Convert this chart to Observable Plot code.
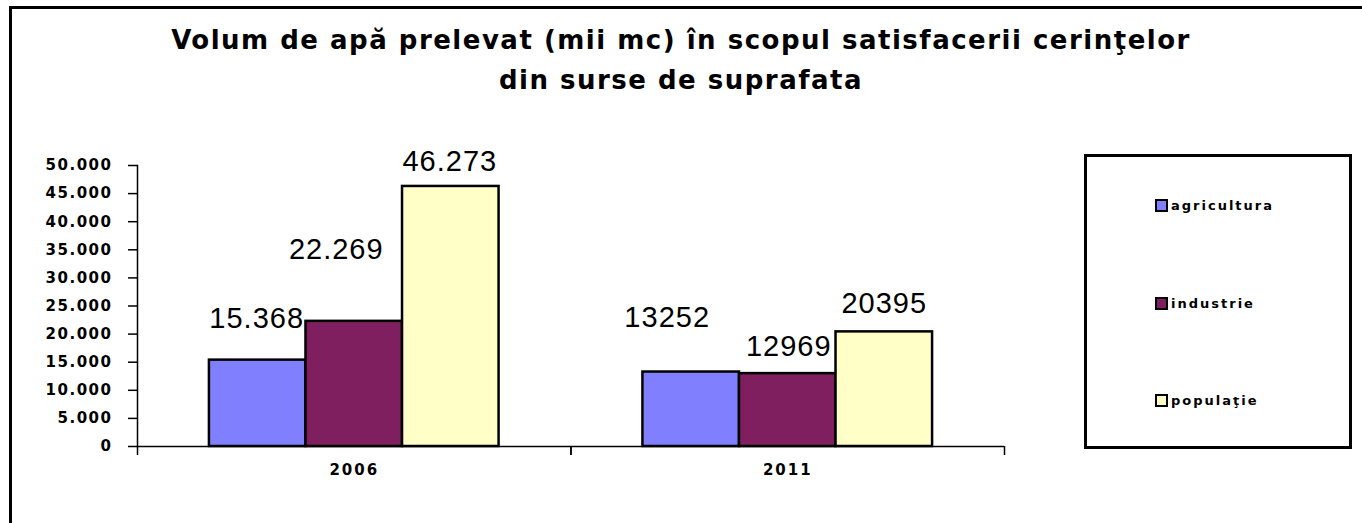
<!DOCTYPE html>
<html><head><meta charset="utf-8">
<script src="https://cdn.jsdelivr.net/npm/d3@7"></script>
<script src="https://cdn.jsdelivr.net/npm/@observablehq/plot@0.6"></script>
<style>
html,body{margin:0;padding:0;background:#fff;}
#page{position:relative;width:1362px;height:523px;overflow:hidden;font-family:"Liberation Sans",Arial,sans-serif;color:#000;}
#frame{position:absolute;left:9px;top:6px;width:1400px;height:600px;border-left:3px solid #000;border-top:3px solid #000;}
#title{position:absolute;left:0;width:1362px;top:20px;text-align:center;font-family:"DejaVu Sans",sans-serif;font-weight:bold;font-size:26px;line-height:40px;letter-spacing:1.5px;}
#chart{position:absolute;left:0;top:130px;}
#legend{position:absolute;left:1084px;top:154px;width:262px;height:289px;border:3px solid #000;background:#fff;}
.item{position:absolute;left:68px;height:16px;font-family:"DejaVu Sans",sans-serif;font-weight:bold;font-size:13px;letter-spacing:2px;display:flex;align-items:center;}
.sw{width:9px;height:9px;border:2px solid #000;margin-right:3px;}
#chart svg g[aria-label="y-axis tick label"] text{font-family:"DejaVu Sans",sans-serif;font-weight:bold;font-size:15px;letter-spacing:1.5px;}
#chart svg g[aria-label="fx-axis tick label"] text{font-family:"DejaVu Sans",sans-serif;font-weight:bold;font-size:15px;letter-spacing:2px;}
#chart svg g[aria-label="y-axis tick"]{stroke-width:1.5px;}
#chart svg g[aria-label="frame"]{stroke-width:1.5px;}
#chart svg g[aria-label="text"] text{letter-spacing:1px;}
</style>
</head><body>
<div id="page">
  <div id="frame"></div>
  <div id="title">Volum de apă prelevat (mii mc) în scopul satisfacerii cerinţelor<br>din surse de suprafata</div>
  <div id="chart"></div>
  <div id="legend"></div>
</div>
<script>
// ---- data ----
const years = ["2006", "2011"];
const series = ["agricultura", "industrie", "populaţie"];
const values2006 = [15368, 22269, 46273];
const values2011 = [13252, 12969, 20395];
const labels2006 = ["15.368", "22.269", "46.273"];
const labels2011 = ["13252", "12969", "20395"];
const yTicks = [0, 5000, 10000, 15000, 20000, 25000, 30000, 35000, 40000, 45000, 50000];

// ---- styling / layout ----
const colors = ["#8080FF", "#7F1F5F", "#FFFFC8"];
// manual label nudges [dx, dy] (as placed in the original chart)
const labelNudge = [[-1, -32], [-18, -62], [-1, -15], [-24, -45], [1, -18], [0, -19]];

const W = 1362, H = 370, ML = 137, MR = 358, MT = 35, MB = 54;
const bandW = (W - ML - MR) / years.length;

const valuesByYear = [values2006, values2011];
const labelsByYear = [labels2006, labels2011];
const data = years.flatMap((yr, i) => series.map((s, j) => ({
  year: yr, series: s, value: valuesByYear[i][j], label: labelsByYear[i][j], k: i * series.length + j
})));

const fmt = d => d === 0 ? "0" : d3.format(",")(d).replace(/,/g, ".");

const plot = Plot.plot({
  width: W, height: H,
  marginLeft: ML, marginRight: MR, marginTop: MT, marginBottom: MB,
  style: {fontFamily: "'Liberation Sans', Arial, sans-serif", color: "#000", background: "transparent", overflow: "visible"},
  fx: {domain: years, padding: 0, round: false, label: null},
  x: {domain: series, paddingInner: 0, paddingOuter: 0.745, round: false, axis: null},
  y: {domain: [0, 50000], ticks: yTicks, tickFormat: fmt, tickSize: 9, tickPadding: 16, line: true, label: null},
  color: {domain: series, range: colors},
  marks: [
    Plot.barY(data, {fx: "year", x: "series", y: "value", fill: "series", stroke: "#000", strokeWidth: 2.5}),
    Plot.ruleY([0], {stroke: "#000", strokeWidth: 1.5}),
    Plot.axisFx({anchor: "bottom", tickSize: 0, tickPadding: 18, label: null}),
    Plot.axisFx({anchor: "bottom", tickSize: 9, fill: "none", strokeWidth: 1.5, dx: -bandW / 2, label: null}),
    Plot.axisFx({anchor: "bottom", tickSize: 9, fill: "none", strokeWidth: 1.5, dx: bandW / 2, label: null}),
    ...data.map(d => Plot.text([d], {
      fx: "year", x: "series", y: "value", text: "label",
      lineAnchor: "bottom", fontSize: 29, fill: "#000",
      dx: labelNudge[d.k][0], dy: labelNudge[d.k][1]
    }))
  ]
});
document.getElementById("chart").appendChild(plot);

// legend built from series & colors
const legend = document.getElementById("legend");
const itemTops = [40, 138, 235];
series.forEach((s, i) => {
  const it = document.createElement("div");
  it.className = "item";
  it.style.top = itemTops[i] + "px";
  const sw = document.createElement("span");
  sw.className = "sw";
  sw.style.background = colors[i];
  it.appendChild(sw);
  it.appendChild(document.createTextNode(s));
  legend.appendChild(it);
});
</script>
</body></html>
